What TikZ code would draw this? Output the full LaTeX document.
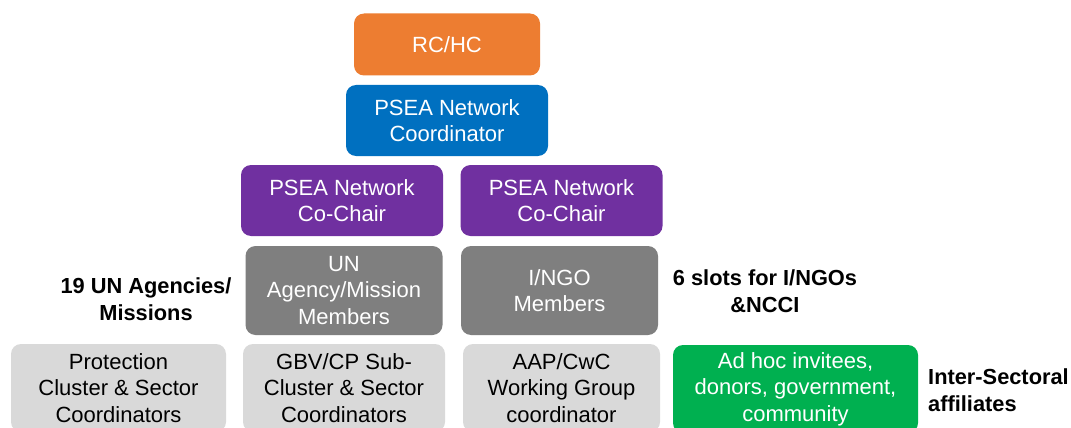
\documentclass[tikz,border=0pt]{standalone}
\usepackage{fontspec}
\setmainfont{Liberation Sans}
\definecolor{cOrange}{HTML}{ED7D31}
\definecolor{cBlue}{HTML}{0070C0}
\definecolor{cPurple}{HTML}{7030A0}
\definecolor{cGray}{HTML}{7F7F7F}
\definecolor{cLight}{HTML}{D9D9D9}
\definecolor{cGreen}{HTML}{00B050}
\begin{document}
\begin{tikzpicture}[x=1pt,y=-1pt,
  box/.style={rectangle, rounded corners=10pt, draw=none, inner sep=0pt, align=center,
    font=\fontsize{22}{26.5}\selectfont, text=white},
  lbl/.style={inner sep=0pt, font=\fontsize{21.8}{26.5}\selectfont\bfseries, text=black}]
\useasboundingbox (0,0) rectangle (1071,428);
\fill[white] (0,0) rectangle (1071,428);
\node[box, fill=cOrange, minimum width=186pt, minimum height=62pt] (rchc) at (447,44.5) {RC/HC};
\node[box, fill=cBlue, minimum width=202pt, minimum height=71pt] (coord) at (447,120.5) {PSEA Network\\Coordinator};
\node[box, fill=cPurple, minimum width=202pt, minimum height=71pt] (cochairL) at (342,200.5) {PSEA Network\\Co-Chair};
\node[box, fill=cPurple, minimum width=202pt, minimum height=71pt] (cochairR) at (561.5,200.5) {PSEA Network\\Co-Chair};
\node[box, fill=cGray, minimum width=197pt, minimum height=89pt] (un) at (344,290.5) {UN\\Agency/Mission\\Members};
\node[box, fill=cGray, minimum width=197pt, minimum height=89pt] (ingo) at (559.5,290.5) {I/NGO\\Members};
\node[box, fill=cLight, text=black, minimum width=215pt, minimum height=88pt] (prot) at (118.5,388) {Protection\\Cluster \& Sector\\Coordinators};
\node[box, fill=cLight, text=black, minimum width=202pt, minimum height=88pt] (gbv) at (344,388) {GBV/CP Sub-\\Cluster \& Sector\\Coordinators};
\node[box, fill=cLight, text=black, minimum width=197pt, minimum height=88pt] (aap) at (561.5,388) {AAP/CwC\\Working Group\\coordinator};
\node[box, fill=cGreen, minimum width=245pt, minimum height=88pt] (adhoc) at (795.5,389) {Ad hoc invitees,\\donors, government,\\community};
\node[lbl, align=center] (unlbl) at (146,299) {19 UN Agencies/\\Missions};
\node[lbl, align=center] (ngolbl) at (765,291) {6 slots for I/NGOs\\\&NCCI};
\node[lbl, align=left, anchor=west] (interlbl) at (928,390) {Inter-Sectoral\\affiliates};
\end{tikzpicture}
\end{document}
